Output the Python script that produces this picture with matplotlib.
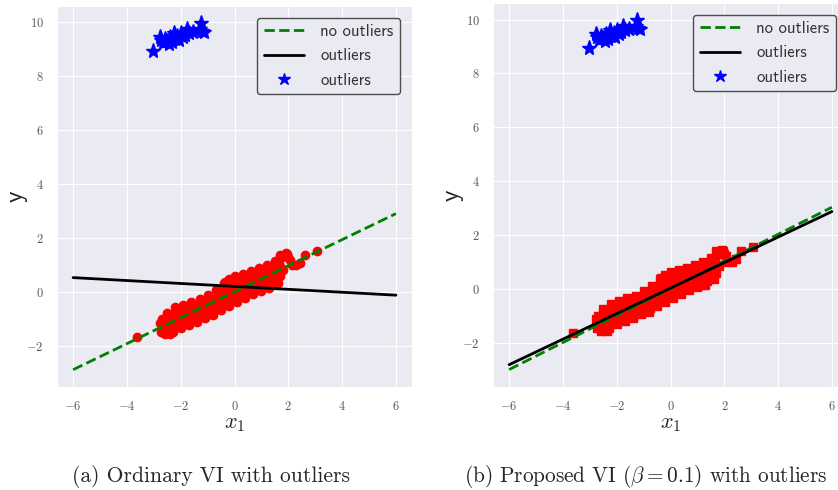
import numpy as np
import matplotlib
matplotlib.use("Agg")
import matplotlib.pyplot as plt
import seaborn as sns

# red inliers
inlier_x = [-3.62, -2.78, -2.75, -2.70, -2.62, -2.55, -2.50, -2.45, -2.38, -2.30, -2.28, -2.20,
            -2.15, -2.10, -2.05, -2.00, -1.95, -1.90, -1.85, -1.80, -1.75, -1.70, -1.65, -1.60,
            -1.55, -1.50, -1.45, -1.42, -1.38, -1.30, -1.25, -1.20, -1.15, -1.10, -1.05, -1.00,
            -0.95, -0.92, -0.85, -0.80, -0.75, -0.70, -0.65, -0.60, -0.55, -0.50, -0.45, -0.40,
            -0.38, -0.30, -0.25, -0.22, -0.15, -0.10, -0.05, 0.00, 0.05, 0.08, 0.12, 0.18,
            0.20, 0.25, 0.30, 0.35, 0.40, 0.45, 0.50, 0.55, 0.60, 0.65, 0.70, 0.75,
            0.80, 0.85, 0.90, 0.95, 1.00, 1.05, 1.10, 1.15, 1.20, 1.25, 1.30, 1.35,
            1.40, 1.45, 1.50, 1.55, 1.60, 1.65, 1.70, 1.75, 1.80, 1.95, 2.05, 2.15,
            2.30, 2.45, 2.62, 3.05,
            -2.65, -2.40, -2.25, -2.10, -1.98, -1.82, -1.68, -1.58, -1.48, -1.35, -1.22, -1.12,
            -1.02, -0.88, -0.78, -0.68, -0.58, -0.48, -0.35, -0.28, -0.18, -0.08, 0.02, 0.10,
            0.22, 0.32, 0.42, 0.52, 0.62, 0.72, 0.82, 0.92, 1.02, 1.12, 1.22, 1.32,
            1.42, 1.52, 1.62, 1.72, 0.30, -0.35, 1.85,
            -2.50, -2.20, -1.90, -1.60, -1.30, -1.00, -0.70, -0.40, -0.20, 0.00, 0.30, 0.60,
            0.90, 1.20, 1.50, 1.70, 1.90, 2.00,
            -2.60, -2.30, -2.00, -1.70, -1.40, -0.80, -0.50, -0.20, 0.10, 0.40, 0.70, 1.00,
            1.30, 1.60]
inlier_y = [-1.66, -1.12, -1.45, -1.00, -1.25, -1.38, -0.95, -1.15, -1.55, -1.30, -0.80, -1.05,
            -0.90, -1.20, -0.62, -0.85, -1.10, -0.72, -0.95, -0.55, -1.05, -0.80, -0.62, -0.95,
            -0.45, -0.72, -0.88, -0.55, -1.00, -0.60, -0.40, -0.78, -0.50, -0.95, -0.30, -0.65,
            -0.45, -0.80, -0.25, -0.55, -0.70, -0.35, -0.15, -0.50, -0.28, 0.05, -0.42, -0.20,
            0.15, -0.10, 0.35, -0.35, 0.10, -0.20, 0.30, 0.05, 0.50, -0.15, 0.20, 0.00,
            0.40, -0.10, 0.25, 0.55, 0.10, 0.35, 0.00, 0.45, 0.20, 0.60, 0.30, 0.10,
            0.50, 0.70, 0.25, 0.45, 0.75, 0.15, 0.55, 0.35, 0.80, 0.50, 0.65, 0.30,
            0.85, 0.60, 0.95, 0.45, 0.75, 1.05, 0.60, 1.30, 0.85, 1.42, 1.20, 1.00,
            1.00, 1.10, 1.40, 1.55,
            -1.30, -0.90, -1.18, -0.75, -1.00, -0.78, -0.98, -0.70, -0.50, -0.78, -0.60, -0.70,
            -0.50, -0.60, -0.35, -0.55, -0.10, -0.30, -0.05, 0.18, -0.05, 0.15, 0.35, 0.05,
            0.22, 0.05, 0.50, 0.30, 0.42, 0.55, 0.30, 0.65, 0.45, 0.70, 0.35, 0.90,
            0.45, 0.70, 0.55, 0.90, 0.62, 0.40, 1.35,
            -0.75, -0.55, -0.45, -0.35, -0.25, -0.10, 0.10, 0.35, 0.50, 0.62, 0.70, 0.78,
            0.90, 1.00, 1.15, 1.40, 1.45, 1.30,
            -1.55, -1.45, -1.30, -1.20, -1.10, -0.85, -0.65, -0.50, -0.35, -0.20, -0.05, 0.05,
            0.15, 0.35]

# blue outliers
outlier_x = [-3.02, -2.78, -2.72, -2.65, -2.60, -2.52, -2.45, -2.40, -2.32, -2.25, -2.20, -2.12,
             -2.05, -2.00, -1.92, -1.85, -1.78, -1.70, -1.55, -1.25, -1.20, -1.15, -1.30]
outlier_y = [8.93, 9.48, 9.35, 9.25, 9.40, 9.30, 9.20, 9.45, 9.28, 9.60, 9.40, 9.50,
             9.35, 9.62, 9.45, 9.55, 9.75, 9.60, 9.65, 9.97, 9.70, 9.65, 9.75]

# fitted lines, endpoints read at x = -6 and x = 6
line_x = [-6, 6]
ordinary_clean = [-2.86, 2.92]
ordinary_outl = [0.55, -0.10]
proposed_clean = [-3.00, 3.03]
proposed_outl = [-2.82, 2.87]

ticks_x = [-6, -4, -2, 0, 2, 4, 6]
ticks_y = [-2, 0, 2, 4, 6, 8, 10]

sns.set_style("darkgrid")
plt.rcParams['font.family'] = ['cmss10', 'DejaVu Sans']
plt.rcParams['mathtext.fontset'] = 'cm'
plt.rcParams['axes.unicode_minus'] = False

fig = plt.figure(figsize=(8.38, 4.9), dpi=100)
ax1 = fig.add_axes([0.068, 0.2102, 0.4237, 0.7776])
ax2 = fig.add_axes([0.5883, 0.2102, 0.4237, 0.7837])


def draw(ax, clean, outl, mk):
    ax.plot(inlier_x, inlier_y, linestyle='none', marker=mk, color='red',
            markersize=6, zorder=2)
    ax.plot(line_x, clean, 'g--', lw=2, label='no outliers', zorder=3)
    ax.plot(line_x, outl, 'k-', lw=2, label='outliers', zorder=4)
    ax.plot(outlier_x, outlier_y, linestyle='none', marker='*', color='blue',
            markersize=11, label='outliers', zorder=2)
    ax.set_xticks(ticks_x)
    ax.set_yticks(ticks_y)
    ax.set_xticklabels(['$%d$' % t for t in ticks_x])
    ax.set_yticklabels(['$%d$' % t for t in ticks_y])
    ax.tick_params(labelsize=9, labelcolor='0.35', pad=6)
    ax.set_xlabel('$x_1$', fontsize=16, labelpad=1)
    ax.set_ylabel('y', fontsize=18, labelpad=-1)
    leg = ax.legend(loc='upper right', fontsize=12, handlelength=2.4,
                    handletextpad=1.0, borderaxespad=0.7, labelspacing=0.55,
                    markerscale=0.8, frameon=True, fancybox=True, framealpha=1.0)
    leg.get_frame().set_facecolor('#EAEAF2')
    leg.get_frame().set_edgecolor('0.3')
    for t in leg.get_texts():
        t.set_color('0.2')


draw(ax1, ordinary_clean, ordinary_outl, 'o')
draw(ax2, proposed_clean, proposed_outl, 's')

fig.text(0.252, 0.027, '(a) Ordinary VI with outliers', fontsize=15.5,
         family='cmr10', ha='center', va='center')
fig.text(0.771, 0.027, r'(b) Proposed VI ($\beta = 0.1$) with outliers', fontsize=15.3,
         family='cmr10', ha='center', va='center')

fig.savefig('out.png', dpi=100)
